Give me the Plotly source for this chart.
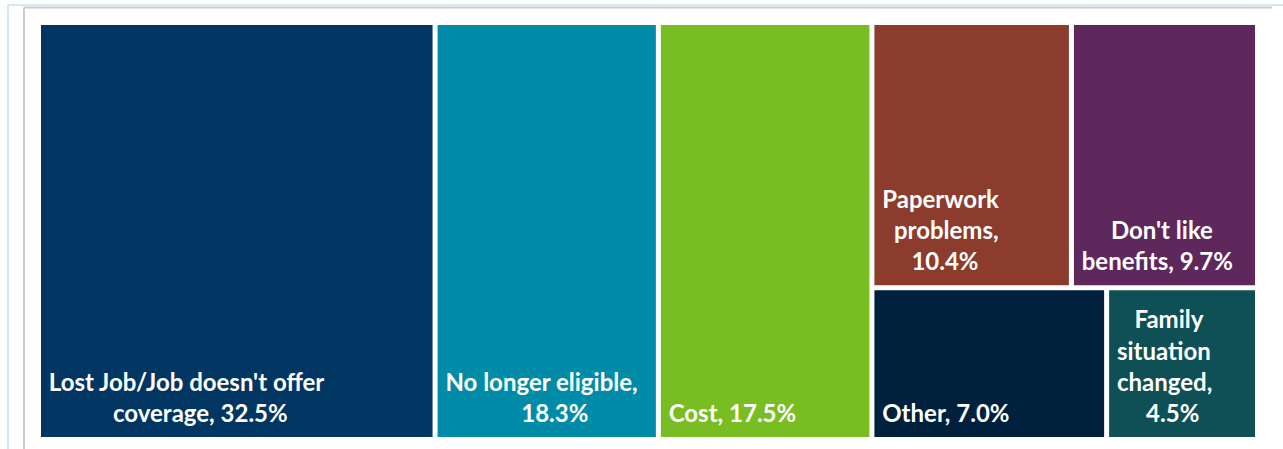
import plotly.graph_objects as go

# ---- data ----
categories = [
    "Lost Job/Job doesn't offer coverage",
    "No longer eligible",
    "Cost",
    "Paperwork problems",
    "Don't like benefits",
    "Other",
    "Family situation changed",
]
shares = [32.5, 18.3, 17.5, 10.4, 9.7, 7.0, 4.5]
# how each label is wrapped inside its tile: (line text, indent used to centre the line)
label_lines = [
    [("Lost Job/Job doesn't offer", 0), ("coverage, {v}", 11)],
    [("No longer eligible,", 0), ("{v}", 13)],
    [("Cost, {v}", 0)],
    [("Paperwork", 0), ("problems,", 2), ("{v}", 5)],
    [("Don't like", 5), ("benefits, {v}", 0)],
    [("Other, {v}", 0)],
    [("Family", 3), ("situation", 0), ("changed,", 0), ("{v}", 5)],
]
tile_colors = ["#013562", "#008CA8", "#78BD21", "#8B3C2C", "#5E285D", "#00213D", "#0E5055"]

NBSP = "\u00a0"
LEFT_PAD = 1
# an invisible large space on the last line lifts the label off the tile's bottom edge
BOTTOM_LIFT = "<span style='font-size:60px'>" + NBSP + "</span>"
texts = []
for lines, v in zip(label_lines, shares):
    texts.append("<br>".join(NBSP * (LEFT_PAD + ind) + l.format(v=f"{v:.1f}%")
                             for l, ind in lines) + BOTTOM_LIFT)

ids = ["root"] + categories
labels = [""] + categories
parents = [""] + ["root"] * len(categories)
values = [sum(shares)] + shares
colors = ["white"] + tile_colors
text_all = [""] + texts

fig = go.Figure(go.Treemap(
    ids=ids,
    labels=labels,
    parents=parents,
    values=values,
    branchvalues="total",
    text=text_all,
    texttemplate="%{text}",
    textposition="bottom left",
    marker=dict(colors=colors, line=dict(color="white", width=2),
                pad=dict(t=0, l=0, r=0, b=0)),
    tiling=dict(packing="squarify", squarifyratio=1),
    pathbar=dict(visible=False),
    sort=True,
    hoverinfo="label+value",
    textfont=dict(family="Lato", size=24, color="white", weight="bold"),
    insidetextfont=dict(family="Lato", size=24, color="white", weight="bold"),
    root=dict(color="white"),
))

# plot area: x 40..1256 px, y 24..438 px (1216 x 414)
PW, PH = 1216, 414
def px(x):
    return (x - 40) / PW
def py(y):
    return (438 - y) / PH

fig.update_layout(
    width=1283, height=449,
    margin=dict(l=40, r=27, t=24, b=11),
    paper_bgcolor="white",
    shapes=[
        dict(type="line", xref="paper", yref="paper", x0=px(8), x1=px(1283),
             y0=py(5), y1=py(5), line=dict(color="#D4E6F7", width=2)),
        dict(type="line", xref="paper", yref="paper", x0=px(8), x1=px(8),
             y0=py(449), y1=py(5), line=dict(color="#D4E6F7", width=2)),
        dict(type="line", xref="paper", yref="paper", x0=px(24), x1=px(1272),
             y0=py(7.5), y1=py(7.5), line=dict(color="#CCCCCC", width=2)),
        dict(type="line", xref="paper", yref="paper", x0=px(24), x1=px(24),
             y0=py(449), y1=py(7.5), line=dict(color="#CCCCCC", width=2)),
    ],
)

fig.write_html("out.html", config={"displayModeBar": False},
               post_script="document.body.style.margin='0';")
